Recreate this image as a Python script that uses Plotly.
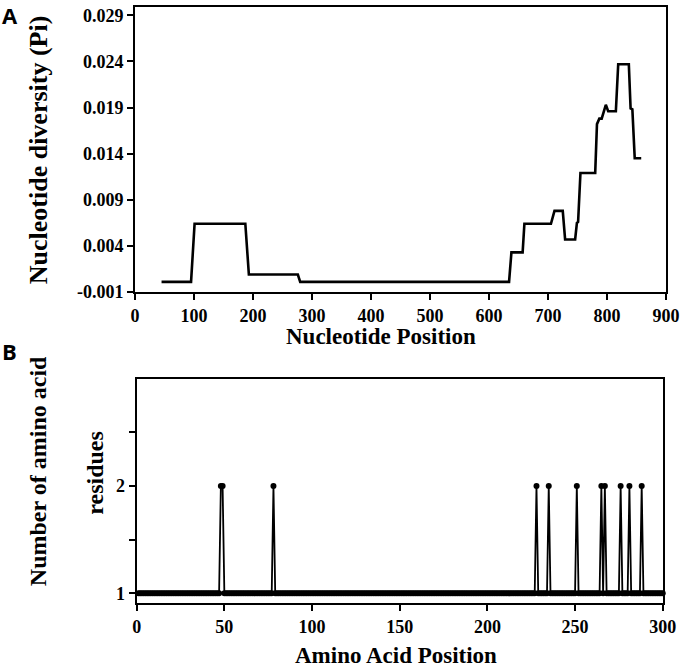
import plotly.graph_objects as go

# ---- Data: panel A (nucleotide diversity sliding window, polyline vertices) ----
nt_position = [45, 95, 101, 187, 193, 276, 280, 634, 638, 657, 660, 705, 711, 725, 729,
               746, 749, 751, 755, 780, 783, 787, 791, 798, 802, 815, 819, 837, 840, 843,
               847, 858]
pi_values = [0.0001, 0.0001, 0.0064, 0.0064, 0.0009, 0.0009, 0.0001, 0.0001, 0.0033, 0.0033,
             0.0064, 0.0064, 0.0078, 0.0078, 0.0047, 0.0047, 0.0065, 0.0066, 0.0119, 0.0119,
             0.0172, 0.0178, 0.0178, 0.0193, 0.0186, 0.0186, 0.0237, 0.0237, 0.0189, 0.0188,
             0.0135, 0.0135]
pi_tick_vals = [-0.001, 0.004, 0.009, 0.014, 0.019, 0.024, 0.029]
pi_tick_text = ["-0.001", "0.004", "0.009", "0.014", "0.019", "0.024", "0.029"]
nt_tick_vals = [0, 100, 200, 300, 400, 500, 600, 700, 800, 900]

# ---- Data: panel B (number of amino acid residues per position) ----
aa_positions = list(range(1, 301))
aa_two_residue_positions = [48, 49, 78, 228, 235, 251, 265, 267, 276, 281, 288]
aa_counts = [2 if p in aa_two_residue_positions else 1 for p in aa_positions]
aa_tick_vals = [0, 50, 100, 150, 200, 250, 300]
res_tick_vals = [1, 1.5, 2, 2.5]
res_tick_text = ["1", "", "2", ""]

# ---- Layout geometry (pixels) ----
W, H = 685, 667
L, R, T, B = 135, 15, 5, 64
PW = W - L - R
PH = H - T - B


def px_x(px):
    return (px - L) / PW


def px_y(py):
    return (H - B - py) / PH


SERIF = "Liberation Serif, Times New Roman, serif"
SANS = "Open Sans, Liberation Sans, Arial, sans-serif"

fig = go.Figure()

fig.add_trace(go.Scatter(
    x=nt_position, y=pi_values, mode="lines",
    line=dict(color="black", width=2.6),
    xaxis="x", yaxis="y", showlegend=False,
))

fig.add_trace(go.Scatter(
    x=aa_positions, y=aa_counts, mode="lines+markers",
    line=dict(color="black", width=1.8),
    marker=dict(color="black", size=6),
    xaxis="x2", yaxis="y2", showlegend=False, cliponaxis=False,
))

axis_common = dict(
    showline=True, linecolor="black", linewidth=2, mirror=True,
    ticks="outside", ticklen=6, tickwidth=2, tickcolor="black",
    showgrid=False, zeroline=False,
    tickfont=dict(family=SERIF, size=18, color="black", weight="bold"),
)

fig.update_layout(
    width=W, height=H,
    margin=dict(l=L, r=R, t=T, b=B),
    paper_bgcolor="white", plot_bgcolor="white",
    xaxis=dict(domain=[0, 1], range=[0, 900], tickvals=nt_tick_vals, anchor="y", **axis_common),
    yaxis=dict(domain=[px_y(291), 1], range=[-0.001, 0.0299], tickvals=pi_tick_vals,
               ticktext=pi_tick_text, anchor="x", **axis_common),
    xaxis2=dict(domain=[px_x(136.7), px_x(666.7)], range=[0, 300], tickvals=aa_tick_vals,
                anchor="y2", **axis_common),
    yaxis2=dict(domain=[0, px_y(378)], range=[0.91, 3.0], tickvals=res_tick_vals,
                ticktext=res_tick_text, anchor="x2", **axis_common),
)

title_font = dict(family=SERIF, size=23, color="black", weight="bold")
ytitle_a_font = dict(family=SERIF, size=26, color="black", weight="bold")
ytitle_b_font = dict(family=SERIF, size=24, color="black", weight="bold")
label_font = dict(family=SANS, size=22, color="black", weight="bold")
ann = [
    dict(text="Nucleotide diversity (Pi)", x=px_x(38), y=px_y(148), textangle=-90, font=ytitle_a_font),
    dict(text="Nucleotide Position", x=px_x(383), y=px_y(336), font=title_font),
    dict(text="Number of amino acid", x=px_x(38), y=px_y(471), textangle=-90, font=ytitle_b_font),
    dict(text="residues", x=px_x(95), y=px_y(472), textangle=-90, font=ytitle_b_font),
    dict(text="Amino Acid Position", x=px_x(398), y=px_y(656), font=title_font),
    dict(text="A", x=px_x(9), y=px_y(13), font=label_font),
    dict(text="B", x=px_x(9), y=px_y(350), font=label_font),
]
for a in ann:
    a.update(xref="paper", yref="paper", showarrow=False, xanchor="center", yanchor="middle")
fig.update_layout(annotations=ann)

fig.write_html("out.html", config={"displayModeBar": False},
               post_script="document.body.style.margin='0';")
